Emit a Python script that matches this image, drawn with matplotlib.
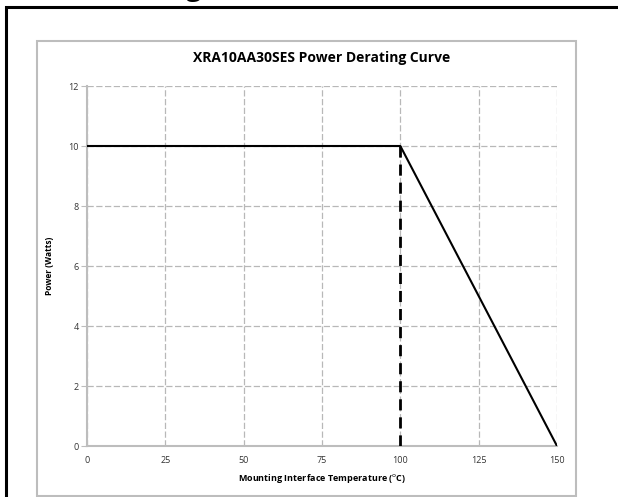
import matplotlib.pyplot as plt
from matplotlib.patches import Rectangle

temps = [0, 100, 150]
power = [10, 10, 0]
knee_x = [100, 100]
knee_y = [0, 10]
x_ticks = [0, 25, 50, 75, 100, 125, 150]
y_ticks = [0, 2, 4, 6, 8, 10, 12]


def main():
    plt.rcParams['font.family'] = ['Open Sans', 'DejaVu Sans']
    W, H = 618, 497
    fig = plt.figure(figsize=(W / 100, H / 100), dpi=100)

    # page frame + chart frame
    fig.patches.append(Rectangle((6 / W, -0.01), 1.02, (H - 7) / H + 0.01,
                                 transform=fig.transFigure, fill=False,
                                 edgecolor='black', linewidth=2.2))
    fig.patches.append(Rectangle((37 / W, 1 / H), 539 / W, 455 / H,
                                 transform=fig.transFigure, fill=False,
                                 edgecolor='#bdbdbd', linewidth=1.5))
    # clipped heading descender above the frame
    fig.text(186 / W, 1 + 5 / H, "g", fontsize=20, fontweight='bold',
             va='baseline', ha='left')

    ax = fig.add_axes([87 / W, 51 / H, 470 / W, 360 / H])
    ax.plot(temps, power, color='black', linewidth=1.5, zorder=3)
    ax.plot(knee_x, knee_y, color='black', linewidth=2, linestyle=(0, (4, 2.5)), zorder=3)

    ax.set_xlim(0, 150)
    ax.set_ylim(0, 12)
    ax.set_xticks(x_ticks)
    ax.set_yticks(y_ticks)
    ax.grid(True, color='#b8b8b8', linestyle=(0, (5, 2)), linewidth=0.9)
    ax.set_axisbelow(True)
    for s in ['top', 'right']:
        ax.spines[s].set_visible(False)
    for s in ['left', 'bottom']:
        ax.spines[s].set_color('#bdbdbd')
        ax.spines[s].set_linewidth(1.5)
    ax.tick_params(axis='y', length=4, color='#bdbdbd', labelsize=6.5, labelcolor='#333333', pad=2)
    ax.tick_params(axis='x', length=0, labelsize=6.5, labelcolor='#333333', pad=7)

    ax.set_title("XRA10AA30SES Power Derating Curve", fontsize=10,
                 fontweight='bold', pad=17)
    ax.set_xlabel("Mounting Interface Temperature ($^{\\mathrm{o}}$C)",
                  fontsize=6.5, fontweight='bold', labelpad=5)
    ax.set_ylabel("Power (Watts)", fontsize=6, fontweight='bold', labelpad=10)

    fig.savefig("out.png", dpi=100)


if __name__ == "__main__":
    main()
